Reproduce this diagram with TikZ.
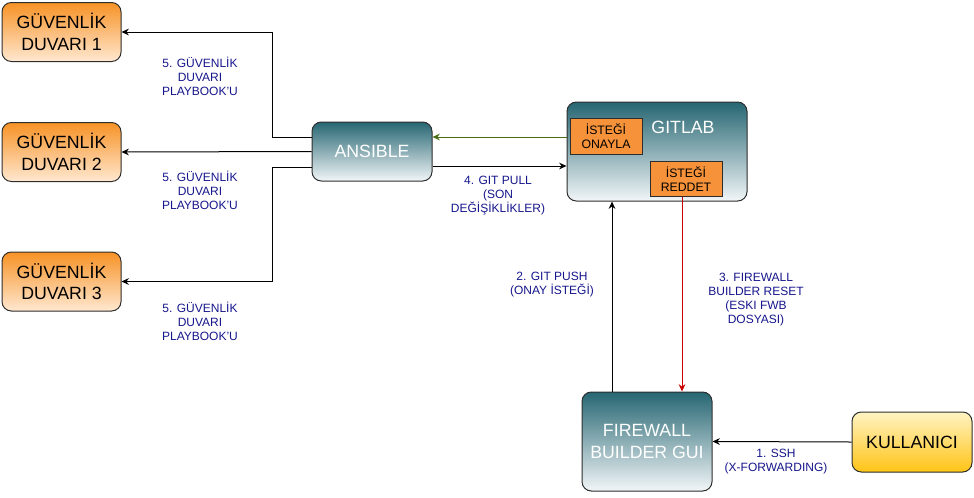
\documentclass[tikz,border=0pt]{standalone}
\usepackage{fontspec}
\setmainfont{Liberation Sans}
\usetikzlibrary{arrows.meta,calc,positioning}
\definecolor{fwtop}{RGB}{247,146,38}
\definecolor{fwbot}{RGB}{255,232,208}
\definecolor{tealtop}{RGB}{38,102,114}
\definecolor{tealbot}{RGB}{242,246,248}
\definecolor{usertop}{RGB}{255,243,195}
\definecolor{userbot}{RGB}{255,196,22}
\definecolor{reqfill}{RGB}{246,146,58}
\definecolor{pullgreen}{RGB}{72,112,18}
\definecolor{resetred}{RGB}{204,0,0}
\definecolor{labelblue}{RGB}{22,22,140}
\definecolor{edge}{RGB}{45,45,45}
\tikzstyle{box} = [rounded corners=7pt, draw=edge, line width=0.75pt, align=center, inner sep=0pt, font=\fontsize{13.3}{16}\selectfont]
\tikzstyle{fwbox} = [box, top color=fwtop, bottom color=fwbot, minimum width=89.25pt, minimum height=44.25pt]
\tikzstyle{tealbox} = [box, top color=tealtop, bottom color=tealbot, text=white]
\tikzstyle{userbox} = [box, top color=usertop, bottom color=userbot, minimum width=90pt, minimum height=45pt]
\tikzstyle{reqbox} = [draw=edge, fill=reqfill, line width=0.75pt, align=center, inner sep=0pt, minimum width=54pt, minimum height=26.5pt, font=\fontsize{9.2}{10.5}\selectfont]
\tikzstyle{lbl} = [align=center, text=labelblue, font=\fontsize{9}{10.5}\selectfont]
\tikzstyle{arrow} = [line width=0.75pt, -{Stealth[length=5.5pt,width=5pt]}]

\begin{document}
\begin{tikzpicture}[x=0.75pt,y=-0.75pt]
\useasboundingbox (0,0) rectangle (974,497);
% firewalls
\node (fw1) [fwbox] at (61.5,32) {GÜVENLİK\\DUVARI 1};
\node (fw2) [fwbox] at (61.5,152) {GÜVENLİK\\DUVARI 2};
\node (fw3) [fwbox] at (61.5,281.5) {GÜVENLİK\\DUVARI 3};
% servers
\node (ansible) [tealbox, minimum width=90pt, minimum height=44.25pt] at (372,151.5) {ANSIBLE};
\node (gitlab) [tealbox, minimum width=135pt, minimum height=74.25pt] at (657,151.5) {};
\node (gitlabtxt) [text=white, font=\fontsize{13.3}{16}\selectfont] at (683,127) {GITLAB};
\node (onayla) [reqbox] at (606,136.5) {İSTEĞİ\\ONAYLA};
\node (reddet) [reqbox] at (686,179) {İSTEĞİ\\REDDET};
\node (fwb) [tealbox, minimum width=97.5pt, minimum height=74.25pt] at (647,441.5) {FIREWALL\\BUILDER GUI};
\node (user) [userbox] at (912,442) {KULLANICI};
% playbooks
\draw[arrow] (ansible.west |- 0,137) -- (272,137) |- (fw1.east);
\draw[arrow] (ansible.west) -- (fw2.east);
\draw[arrow] (ansible.west |- 0,167) -- (272,167) |- (fw3.east);
\node (l5a) [lbl] at (200,76) {5. GÜVENLİK\\DUVARI\\PLAYBOOK'U};
\node (l5b) [lbl] at (200,190) {5. GÜVENLİK\\DUVARI\\PLAYBOOK'U};
\node (l5c) [lbl] at (200,321) {5. GÜVENLİK\\DUVARI\\PLAYBOOK'U};
% gitlab <-> ansible
\draw[arrow, draw=pullgreen, -{Stealth[length=5.5pt,width=5pt,fill=pullgreen]}] (gitlab.west |- 0,137) -- (ansible.east |- 0,137);
\draw[arrow] (ansible.east |- 0,166) -- (gitlab.west |- 0,166);
\node (l4) [lbl] at (498,196) {4. GIT PULL\\(SON\\DEĞİŞİKLİKLER)};
% push / reset
\draw[arrow] (fwb.north -| 612,0) -- (gitlab.south -| 612,0);
\node (l2) [lbl] at (552,285) {2. GIT PUSH\\(ONAY İSTEĞİ)};
\draw[arrow, draw=resetred] (reddet.south -| 682,0) -- (fwb.north -| 682,0);
\node (l3) [lbl] at (756,300) {3. FIREWALL\\BUILDER RESET\\(ESKI FWB\\DOSYASI)};
% user
\draw[arrow] (user.west) -- (fwb.east);
\node (l1) [lbl] at (776,462) {1. SSH\\(X-FORWARDING)};
\end{tikzpicture}
\end{document}
